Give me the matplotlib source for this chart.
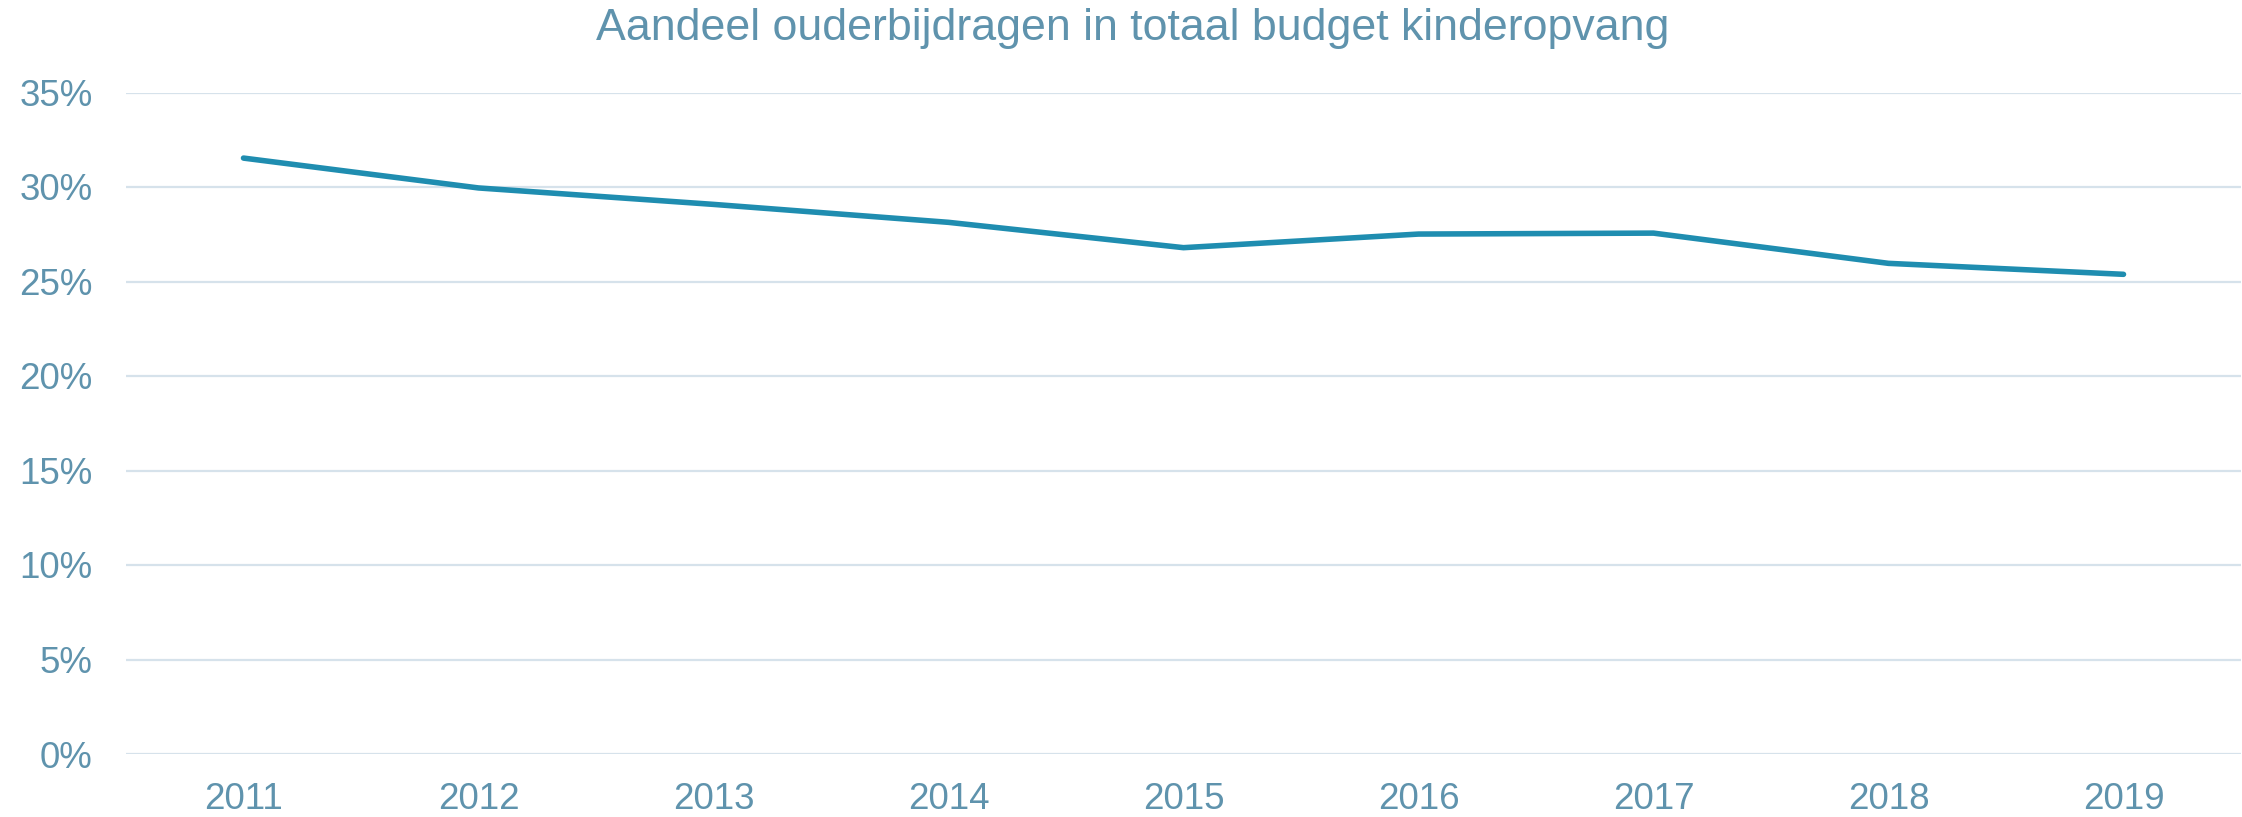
import matplotlib
matplotlib.use("Agg")
from matplotlib import pyplot as plt
from matplotlib.ticker import FuncFormatter

years = ["2011", "2012", "2013", "2014", "2015", "2016", "2017", "2018", "2019"]
share = [0.3153, 0.2995, 0.2908, 0.2813, 0.2679, 0.2751, 0.2756, 0.2596, 0.2538]
yticks = [0, 0.05, 0.10, 0.15, 0.20, 0.25, 0.30, 0.35]

text_color = "#5f93ad"
line_color = "#1f8db0"
grid_color = "#d6e2eb"

plt.rcParams["font.family"] = ["Liberation Sans", "DejaVu Sans"]

fig = plt.figure(figsize=(22.42, 8.17), dpi=100)
ax = fig.add_axes([126 / 2242, 1 - 754 / 817, (2241 - 126) / 2242, (754 - 92.5) / 817])

x = list(range(len(years)))
ax.plot(x, share, color=line_color, linewidth=4, solid_capstyle="round", solid_joinstyle="round", zorder=3)

ax.set_xlim(-0.5, len(years) - 0.5)
ax.set_ylim(0, 0.35)
ax.set_yticks(yticks)
ax.yaxis.set_major_formatter(FuncFormatter(lambda v, p: f"{round(v * 100)}%"))
ax.set_xticks(x)
ax.set_xticklabels(years)

ax.grid(True, axis="y", color=grid_color, linewidth=1.6, zorder=0)
ax.set_axisbelow(True)
for s in ax.spines.values():
    s.set_visible(False)
ax.tick_params(axis="both", length=0, labelsize=26.5, labelcolor=text_color)
ax.tick_params(axis="y", pad=24)
ax.tick_params(axis="x", pad=20)

fig.text(1133 / 2242, 1 - 40 / 817, "Aandeel ouderbijdragen in totaal budget kinderopvang",
         ha="center", va="baseline", fontsize=32.2, color=text_color)

fig.savefig("out.png", dpi=100)
